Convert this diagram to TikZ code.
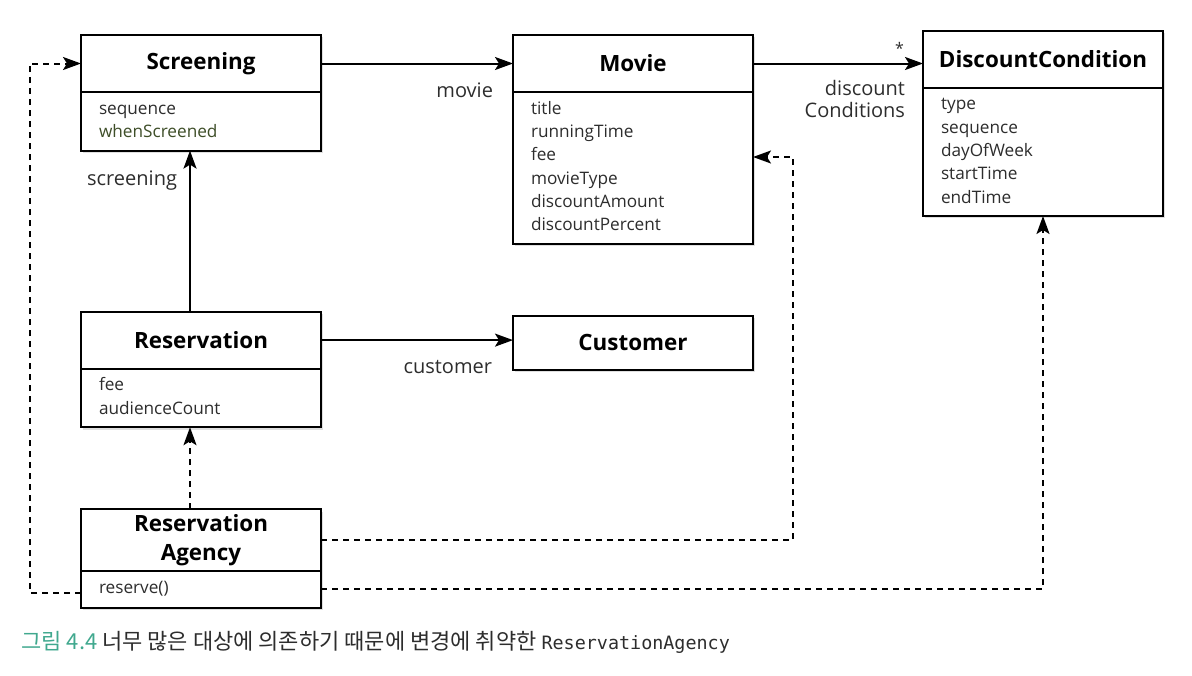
\documentclass[tikz,border=0pt]{standalone}
\usepackage{fontspec}
\setmainfont{Open Sans}
\setmonofont{DejaVu Sans Mono}
\newfontfamily\kofont{Noto Sans CJK KR}
\usepackage{tikz}
\usetikzlibrary{positioning,arrows.meta,shadows}
\definecolor{capgreen}{RGB}{64,168,142}
\definecolor{txtgray}{RGB}{45,45,45}
\definecolor{olivetxt}{RGB}{62,78,40}

\begin{document}
\begin{tikzpicture}[
      x=0.5pt, y=-0.5pt,
      cls/.style={rectangle, draw, line width=1pt, fill=white, minimum width=120pt, minimum height=28.5pt, outer sep=0pt, inner sep=2.5pt, align=center, font=\fontsize{11.2}{14.5}\selectfont\bfseries, drop shadow={opacity=0.25, shadow xshift=1.2pt, shadow yshift=-1.2pt}},
      attrs/.style={rectangle, draw, line width=1pt, fill=white, text width=102pt, inner xsep=9pt, inner ysep=3pt, outer sep=0pt, align=left, text=txtgray, font=\fontsize{8.6}{11.65}\selectfont, execute at begin node=\strut, execute at end node=\strut, drop shadow={opacity=0.25, shadow xshift=1.2pt, shadow yshift=-1.2pt}},
      assoc/.style={-{Stealth[length=9pt, width=6.5pt, inset=2pt]}, line width=1pt},
      dep/.style={assoc, dash pattern=on 3pt off 2.5pt},
      lbl/.style={font=\fontsize{10}{11}\selectfont, text=txtgray, align=right, inner sep=0pt}
  ]
  \useasboundingbox (0,0) rectangle (1192,675);
  % Classes
  \node[cls] (scr) at (201,63.5) {Screening};
  \node[attrs, below=0pt of scr] (scrA) {sequence\\ \textcolor{olivetxt}{whenScreened}};
  \node[cls, right=96pt of scr] (mov) {Movie};
  \node[attrs, below=0pt of mov] (movA) {title\\ runningTime\\ fee\\ movieType\\ discountAmount\\ discountPercent};
  \node[cls, right=85pt of mov, yshift=2.25pt] (dc) {DiscountCondition};
  \node[attrs, below=0pt of dc] (dcA) {type\\ sequence\\ dayOfWeek\\ startTime\\ endTime};
  \node[cls, below=80.5pt of scrA] (res) {Reservation};
  \node[attrs, below=0pt of res] (resA) {fee\\ audienceCount};
  \node[cls, right=96pt of res, yshift=-1.25pt, minimum height=27pt] (cus) {Customer};
  \node[cls, below=41pt of resA, minimum height=30pt] (ag) {Reservation\\ Agency};
  \node[attrs, below=0pt of ag, minimum height=18.5pt] (agA) {reserve()};
  \coordinate (hookM) at (793,157);
  % Associations
  \draw[assoc] (scr.east) -- (mov.west)
    node[lbl, pos=1, anchor=east, xshift=-9.5pt, yshift=-13.5pt] (lMovie) {movie};
  \draw[assoc] (mov.east) -- (mov.east -| dc.west)
    node[lbl, pos=1, anchor=east, xshift=-8.5pt, yshift=-17.75pt] (lConds) {discount\\ Conditions}
    node[lbl, pos=1, anchor=east, xshift=-9pt, yshift=7.5pt, font=\fontsize{8}{9}\selectfont] (lMany) {*};
  \draw[assoc] ([xshift=-5.5pt]res.north) -- ([xshift=-5.5pt]scrA.south)
    node[lbl, pos=1, anchor=east, xshift=-6pt, yshift=-15pt] (lScr) {screening};
  \draw[assoc] (res.east) -- (res.east -| cus.west)
    node[lbl, pos=1, anchor=east, xshift=-10pt, yshift=-13.25pt] (lCus) {customer};
  % Dependencies (dashed)
  \draw[dep] ([xshift=-5.5pt]ag.north) -- ([xshift=-5.5pt]resA.south);
  \draw[dep] ([yshift=-2pt]agA.west) -- ++(-51,0) |- (scr.west);
  \draw[dep] (ag.east) -| (hookM) -- (hookM -| movA.east);
  \draw[dep] (agA.east) -| (dcA.south);
  % Caption
  \node[anchor=west, inner sep=0pt] (cap) at (21,642) {\kofont\fontsize{11}{12}\selectfont\textcolor{capgreen}{그림 4.4} \textcolor{txtgray}{너무 많은 대상에 의존하기 때문에 변경에 취약한} {\ttfamily\fontsize{9.2}{12}\selectfont\textcolor{txtgray}{ReservationAgency}}};
\end{tikzpicture}
\end{document}
